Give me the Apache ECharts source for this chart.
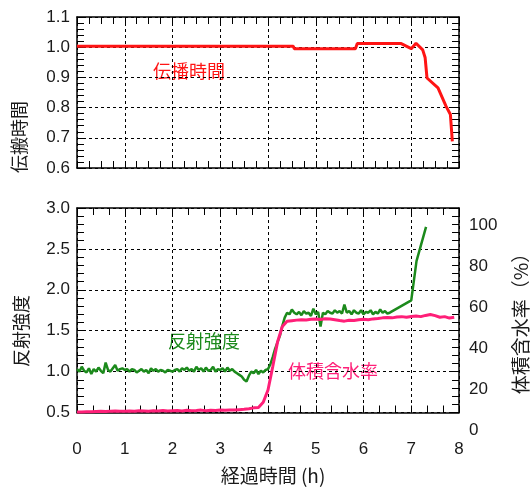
<!DOCTYPE html>
<html>
<head>
<meta charset="utf-8">
<script src="https://cdn.jsdelivr.net/npm/echarts/dist/echarts.min.js"></script>
<style>
  html, body { margin: 0; padding: 0; background: #fff; }
  #chart { width: 531px; height: 487px; }
</style>
</head>
<body>
<div id="chart"></div>
<script>
// 伝播時間 (上段)
const propTime  = [0, 4.53, 4.55, 5.83, 5.87, 6.79, 7.00, 7.10, 7.24, 7.29, 7.33, 7.56, 7.73, 7.82, 7.86];
const propValue = [1.003, 1.003, 0.995, 0.995, 1.012, 1.012, 0.995, 1.013, 0.991, 0.966, 0.898, 0.865, 0.804, 0.777, 0.688];

// 反射強度: 0 h から 0.05 h 毎、最後の急上昇部分は別に
const reflStep = 0.05;
const reflValue = [
  1.03, 1.00, 1.06, 1.01, 0.99, 1.04, 0.97, 1.03, 1.00, 1.05,
  1.01, 0.98, 1.11, 1.02, 1.00, 1.04, 1.08, 1.01, 1.03, 1.04,
  1.02, 1.03, 1.00, 1.03, 1.02, 0.99, 1.01, 1.03, 1.00, 1.02,
  0.98, 1.04, 1.01, 1.03, 1.00, 1.02, 1.01, 0.99, 1.02, 1.01,
  1.00, 1.02, 1.03, 1.00, 1.04, 1.02, 1.05, 1.01, 1.03, 1.00,
  1.06, 1.02, 1.04, 1.00, 1.05, 1.01, 1.02, 1.06, 1.00, 1.03,
  1.02, 1.04, 1.00, 1.05, 1.01, 1.03, 1.00, 0.98, 0.96, 0.94,
  0.90, 0.88, 0.95, 1.00, 0.98, 1.02, 0.97, 1.01, 0.99, 1.02,
  1.03, 1.09, 1.18, 1.28, 1.36, 1.44, 1.56, 1.66, 1.72, 1.70,
  1.76, 1.72, 1.70, 1.73, 1.69, 1.74, 1.71, 1.72, 1.68, 1.77,
  1.70, 1.73, 1.55, 1.72, 1.70, 1.74, 1.72, 1.71, 1.75, 1.72,
  1.74, 1.71, 1.82, 1.72, 1.74, 1.70, 1.75, 1.72, 1.71, 1.75,
  1.70, 1.73, 1.72, 1.75, 1.70, 1.73, 1.71, 1.76, 1.72, 1.74,
  1.71, 1.72
];
const reflTailTime  = [7.00, 7.11, 7.31];
const reflTailValue = [1.87, 2.35, 2.77];

// 体積含水率 (%): 0 h から 0.1 h 毎
const waterStep = 0.1;
const waterValue = [
  8.8, 8.8, 8.9, 8.9, 9.0, 9.1, 9.0, 9.2, 9.3, 9.1,
  9.2, 9.3, 9.2, 9.4, 9.3, 9.1, 9.4, 9.3, 9.5, 9.3,
  9.4, 9.5, 9.3, 9.6, 9.4, 9.5, 9.7, 9.4, 9.6, 9.5,
  9.7, 9.6, 9.8, 9.7, 9.9, 10.1, 10.4, 10.8, 11.0, 13.5,
  19.5, 31.0, 43.0, 50.5, 53.0, 53.3, 53.6, 53.8, 53.7, 54.0,
  54.2, 53.9, 54.3, 54.1, 53.8, 53.4, 53.1, 53.5, 53.4, 53.8,
  54.0, 53.8, 54.2, 54.4, 54.7, 54.9, 54.7, 55.1, 55.3, 55.0,
  55.4, 55.6, 55.3, 55.9, 56.3, 55.8, 55.0, 55.3, 54.6, 55.0
];

const RED = '#ff1414';
const GREEN = '#1c8a1c';
const PINK = '#ff1f78';
const FONT_NUM = '"Liberation Sans", Arial, sans-serif';
const FONT_JP = '"Noto Sans CJK JP", sans-serif';

// 枠線 + 内向き目盛りの軸
function frameAxis(gridIndex, position, min, max, interval, minorSplit, withGrid, withLabel, margin) {
  return {
    type: 'value', gridIndex: gridIndex, position: position,
    min: min, max: max, interval: interval,
    axisLine: { show: true, onZero: false, lineStyle: { color: '#000', width: 1.5 } },
    axisTick: { show: true, inside: true, length: 7, lineStyle: { color: '#000', width: 1 } },
    minorTick: { show: true, splitNumber: minorSplit, length: 7, lineStyle: { color: '#000', width: 1 } },
    splitLine: { show: withGrid, lineStyle: { color: '#000', width: 1, type: [3, 3] } },
    axisLabel: {
      show: withLabel, margin: margin, fontSize: 17, color: '#1a1a1a', fontFamily: FONT_NUM,
      formatter: position === 'left' ? (v) => v.toFixed(1) : (v) => String(v)
    }
  };
}

function jpText(text, x, y, size, color, align, rotation) {
  return {
    type: 'text', x: x, y: y, rotation: rotation || 0,
    style: {
      text: text, fontSize: size, fontFamily: FONT_JP, fill: color,
      align: align, verticalAlign: 'middle'
    }
  };
}

const chart = echarts.init(document.getElementById('chart'));

chart.setOption({
  animation: false,
  backgroundColor: '#fff',
  grid: [
    { left: 77, top: 17, width: 382, height: 151 },
    { left: 77, top: 208, width: 382, height: 204.5 },
    { left: 77, top: 225, width: 382, height: 205 }
  ],
  xAxis: [
    frameAxis(0, 'bottom', 0, 8, 1, 4, true, false, 28),
    frameAxis(0, 'top', 0, 8, 1, 4, false, false, 28),
    frameAxis(1, 'bottom', 0, 8, 1, 3, true, true, 28),
    frameAxis(1, 'top', 0, 8, 1, 3, false, false, 28),
    { type: 'value', gridIndex: 2, min: 0, max: 8, show: false }
  ],
  yAxis: [
    frameAxis(0, 'left', 0.6, 1.1, 0.1, 5, true, true, 7),
    frameAxis(0, 'right', 0.6, 1.1, 0.1, 5, false, false, 7),
    frameAxis(1, 'left', 0.5, 3.0, 0.5, 5, true, true, 7),
    frameAxis(1, 'right', 0.5, 3.0, 0.5, 5, false, false, 7),
    {
      type: 'value', gridIndex: 2, position: 'right', min: 0, max: 100, interval: 20,
      axisLine: { show: false }, axisTick: { show: false }, splitLine: { show: false },
      axisLabel: { margin: 10, fontSize: 17, color: '#1a1a1a', fontFamily: FONT_NUM }
    }
  ],
  series: [
    {
      name: '伝播時間', type: 'line', xAxisIndex: 0, yAxisIndex: 0, symbol: 'none',
      data: propTime.map((t, i) => [t, propValue[i]]),
      lineStyle: { color: RED, width: 3 }
    },
    {
      name: '反射強度', type: 'line', xAxisIndex: 2, yAxisIndex: 2, symbol: 'none',
      data: reflValue.map((v, i) => [i * reflStep, v])
        .concat(reflTailTime.map((t, i) => [t, reflTailValue[i]])),
      lineStyle: { color: GREEN, width: 2.5 }
    },
    {
      name: '体積含水率', type: 'line', xAxisIndex: 4, yAxisIndex: 4, symbol: 'none',
      data: waterValue.map((v, i) => [i * waterStep, v]),
      lineStyle: { color: PINK, width: 3 }
    }
  ],
  graphic: [
    jpText('伝搬時間', 19, 137, 18, '#1a1a1a', 'center', Math.PI / 2),
    jpText('反射強度', 21, 331, 18, '#1a1a1a', 'center', Math.PI / 2),
    jpText('体積含水率（%）', 521, 319, 19, '#1a1a1a', 'center', Math.PI / 2),
    jpText('経過時間 (h)', 273, 476, 19, '#1a1a1a', 'center'),
    jpText('伝播時間', 153, 71.5, 18, RED, 'left'),
    jpText('反射強度', 168, 341.5, 18, GREEN, 'left'),
    jpText('体積含水率', 288, 371.5, 18, PINK, 'left')
  ]
});
</script>
</body>
</html>
